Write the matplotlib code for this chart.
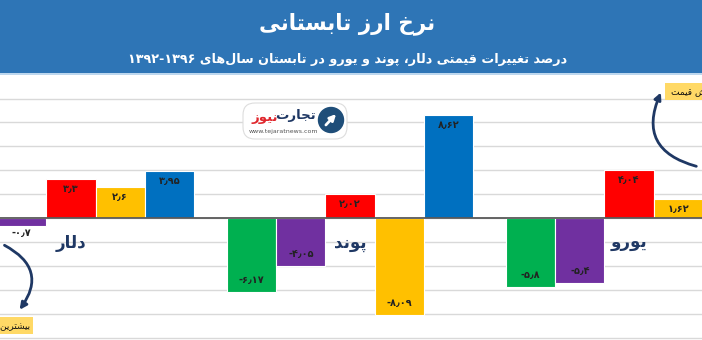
import re

import numpy as np
import matplotlib
matplotlib.use("Agg")
import matplotlib.pyplot as plt
from matplotlib.patches import Rectangle, FancyBboxPatch, Circle, FancyArrowPatch

plt.rcParams["font.family"] = ["DejaVu Sans"]

# %% data (bars cut off by the frame are nan)
groups = ["دلار", "پوند", "یورو"]
v_green = [np.nan, -6.17, -5.8]
v_purple = [-0.7, -4.05, -5.4]
v_red = [3.3, 2.02, 4.04]
v_yellow = [2.6, -8.09, 1.62]
v_blue = [3.95, 8.62, np.nan]
series = [v_green, v_purple, v_red, v_yellow, v_blue]
colors = ["#00B050", "#7030A0", "#FF0000", "#FFC000", "#0070C0"]

title = "نرخ ارز تابستانی"
subtitle = "درصد تغییرات قیمتی دلار، پوند و یورو در تابستان سال\u200cهای ۱۳۹۲-۱۳۹۶"
note_up = "بیشترین افزایش قیمت"
note_down = "بیشترین کاهش قیمت"

# %% tiny arabic/persian shaper (matplotlib has no shaping / bidi)
_F = {
    "ا": (0xFE8D, 0xFE8E), "آ": (0xFE81, 0xFE82), "د": (0xFEA9, 0xFEAA),
    "ذ": (0xFEAB, 0xFEAC), "ر": (0xFEAD, 0xFEAE), "ز": (0xFEAF, 0xFEB0),
    "ژ": (0xFB8A, 0xFB8B), "و": (0xFEED, 0xFEEE),
    "ب": (0xFE8F, 0xFE90, 0xFE91, 0xFE92), "پ": (0xFB56, 0xFB57, 0xFB58, 0xFB59),
    "ت": (0xFE95, 0xFE96, 0xFE97, 0xFE98), "ث": (0xFE99, 0xFE9A, 0xFE9B, 0xFE9C),
    "ج": (0xFE9D, 0xFE9E, 0xFE9F, 0xFEA0), "چ": (0xFB7A, 0xFB7B, 0xFB7C, 0xFB7D),
    "ح": (0xFEA1, 0xFEA2, 0xFEA3, 0xFEA4), "خ": (0xFEA5, 0xFEA6, 0xFEA7, 0xFEA8),
    "س": (0xFEB1, 0xFEB2, 0xFEB3, 0xFEB4), "ش": (0xFEB5, 0xFEB6, 0xFEB7, 0xFEB8),
    "ص": (0xFEB9, 0xFEBA, 0xFEBB, 0xFEBC), "ض": (0xFEBD, 0xFEBE, 0xFEBF, 0xFEC0),
    "ط": (0xFEC1, 0xFEC2, 0xFEC3, 0xFEC4), "ظ": (0xFEC5, 0xFEC6, 0xFEC7, 0xFEC8),
    "ع": (0xFEC9, 0xFECA, 0xFECB, 0xFECC), "غ": (0xFECD, 0xFECE, 0xFECF, 0xFED0),
    "ف": (0xFED1, 0xFED2, 0xFED3, 0xFED4), "ق": (0xFED5, 0xFED6, 0xFED7, 0xFED8),
    "ک": (0xFB8E, 0xFB8F, 0xFB90, 0xFB91), "گ": (0xFB92, 0xFB93, 0xFB94, 0xFB95),
    "ل": (0xFEDD, 0xFEDE, 0xFEDF, 0xFEE0), "م": (0xFEE1, 0xFEE2, 0xFEE3, 0xFEE4),
    "ن": (0xFEE5, 0xFEE6, 0xFEE7, 0xFEE8), "ه": (0xFEE9, 0xFEEA, 0xFEEB, 0xFEEC),
    "ی": (0xFBFC, 0xFBFD, 0xFBFE, 0xFBFF),
}
DUAL = {c for c, f in _F.items() if len(f) == 4}


def fa(s):
    out = []
    for i, c in enumerate(s):
        if c not in _F:
            out.append(c)
            continue
        prev = s[i - 1] if i > 0 else ""
        nxt = s[i + 1] if i + 1 < len(s) else ""
        jp = prev in DUAL
        jn = c in DUAL and nxt in _F
        k = 3 if (jp and jn) else 1 if jp else 2 if jn else 0
        out.append(chr(_F[c][k]))
    shaped = "".join(out).replace("\u200c", "")
    parts = re.split(r"([0-9۰-۹]+(?:[-.٫][0-9۰-۹]+)*)", shaped)
    return "".join(p if p[:1] and p[0] in "0123456789۰۱۲۳۴۵۶۷۸۹" else p[::-1]
                   for p in reversed(parts))


def fa_num(v):
    return f"{v:g}".translate(str.maketrans("0123456789.", "۰۱۲۳۴۵۶۷۸۹٫"))


# %% figure
W, H = 702, 340
fig = plt.figure(figsize=(W / 100, H / 100), dpi=100)
ax = fig.add_axes([0, 0, 1, (H - 75) / H])

n_bar = len(series)
gap = 0.67
stride = n_bar + gap
for s_i, (vals, col) in enumerate(zip(series, colors)):
    xs = np.arange(len(groups)) * stride + s_i + 0.5
    ax.bar(xs, vals, width=1.0, color=col, edgecolor="white", linewidth=0.8, zorder=2)
    for x, v in zip(xs, vals):
        if np.isnan(v):
            continue
        if abs(v) < 1:
            off = -7
        elif v > 0:
            off = -10
        else:
            off = 12
        ax.annotate(fa_num(v), (x, v), xytext=(0, off), textcoords="offset pixels",
                    ha="center", va="center", fontsize=7, fontweight="bold",
                    color="#222222", zorder=4)

for g_i, name in enumerate(groups):
    gx = g_i * stride + n_bar / 2
    ax.text(gx, -2.1, fa(name), ha="center", va="center", fontsize=12,
            fontweight="bold", color="#1F3864", zorder=4)

ax.axhline(0, color="#595959", lw=1.3, zorder=3)
ax.set_yticks(np.arange(-10, 11, 2))
ax.yaxis.grid(True, color="#D9D9D9", lw=1)
ax.set_axisbelow(True)
ax.tick_params(left=False, bottom=False, labelleft=False, labelbottom=False)
for sp in ax.spines.values():
    sp.set_visible(False)
ax.set_xlim(1.056, 1.056 + W / 49.2)
ax.set_ylim(-(H - 218) / 11.95, (218 - 75) / 11.95)

# %% overlay in pixel coords: header, logo, notes, arrows
ov = fig.add_axes([0, 0, 1, 1], zorder=5)
ov.set_xlim(0, W)
ov.set_ylim(H, 0)
ov.axis("off")

ov.add_patch(Rectangle((0, 0), W, 73, color="#2E75B6", lw=0))
ov.add_patch(Rectangle((0, 73), W, 2, color="#BDD7EE", lw=0))
ov.text(347, 24, fa(title), ha="center", va="center", fontsize=15.5,
        fontweight="bold", color="white")
ov.text(348, 59, fa(subtitle), ha="center", va="center", fontsize=9.2,
        fontweight="bold", color="white")

# logo
ov.add_patch(FancyBboxPatch((245, 105), 100, 32, boxstyle="round,pad=2,rounding_size=12",
                            fc="white", ec="#DDDDDD", lw=0.8))
ov.add_patch(Circle((331, 120), 12.5, color="#1F4E79"))
ov.annotate("", xy=(338, 112), xytext=(324, 127),
            arrowprops=dict(arrowstyle="-|>", color="white", lw=2, mutation_scale=9))
ov.text(316, 116, fa("تجارت"), ha="right", va="center", fontsize=9.5,
        fontweight="bold", color="#1F3864")
ov.text(278, 117, fa("نیوز"), ha="right", va="center", fontsize=9.5,
        fontweight="bold", color="#E0282E")
ov.text(283, 131, "www.tejaratnews.com", ha="center", va="center", fontsize=4.5,
        color="#555555")

# notes
ov.add_patch(Rectangle((665, 83), 40, 17, color="#FFD966", lw=0))
ov.text(671, 92, fa(note_up), ha="left", va="center", fontsize=6.5, color="#111111")
ov.add_patch(Rectangle((-5, 317), 38, 17, color="#FFD966", lw=0))
ov.text(30, 326, fa(note_down), ha="right", va="center", fontsize=6.5, color="#111111")

ov.add_patch(FancyArrowPatch((699, 167), (662, 90), connectionstyle="arc3,rad=-0.6",
                             arrowstyle="-|>", mutation_scale=10, lw=2, color="#1F3864"))
ov.add_patch(FancyArrowPatch((2, 244), (18, 312), connectionstyle="arc3,rad=-0.6",
                             arrowstyle="-|>", mutation_scale=10, lw=2, color="#1F3864"))

fig.savefig("out.png", dpi=100)
